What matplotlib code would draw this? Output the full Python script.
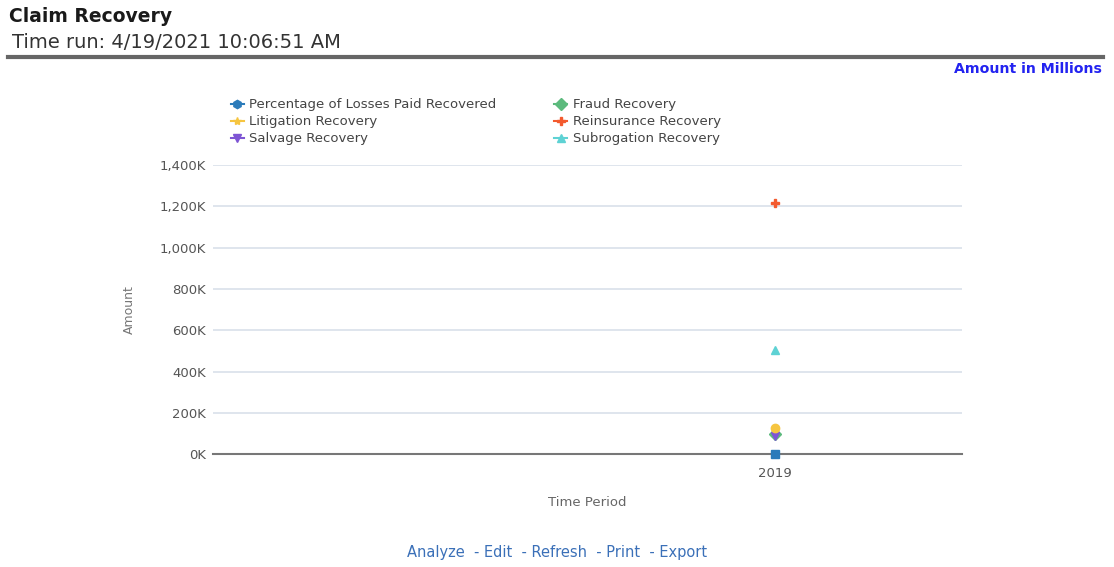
import matplotlib.pyplot as plt
from matplotlib.lines import Line2D
import matplotlib.ticker as mticker

# data (amounts, thousands)
periods = ["2019"]
series = ["Percentage of Losses Paid Recovered", "Fraud Recovery",
          "Litigation Recovery", "Reinsurance Recovery",
          "Salvage Recovery", "Subrogation Recovery"]
values = [0, 100, 126, 1215, 87, 504]
colors = ["#2b7bba", "#5cba7d", "#f6c540", "#f35a2e", "#7e55d4", "#5ed2d4"]
plot_markers = ["s", "D", "o", "P", "v", "^"]
legend_markers = ["h", "D", "*", "P", "v", "^"]

plt.rcParams["font.family"] = "DejaVu Sans"

fig = plt.figure(figsize=(11.14, 5.67), dpi=100)
fig.patch.set_facecolor("white")

# header
fig.text(0.008, 0.971, "Claim Recovery", fontsize=13.5, fontweight="bold",
         color="#1a1a1a", va="center")
fig.text(0.011, 0.925, "Time run: 4/19/2021 10:06:51 AM", fontsize=14,
         color="#333333", va="center")
fig.add_artist(Line2D([0.007, 0.99], [0.899, 0.899], color="#666666", lw=3))
fig.text(0.989, 0.878, "Amount in Millions", fontsize=10.2, fontweight="bold",
         color="#2323f0", ha="right", va="center")

ax = fig.add_axes([0.191, 0.199, 0.673, 0.510])
x = list(range(len(periods)))
order = [0, 1, 4, 2, 3, 5]
for i in order:
    ax.plot(x, [values[i]], linestyle="none", marker=plot_markers[i],
            color=colors[i], markersize=6, zorder=3, clip_on=False)

ax.set_xlim(-1.5, 0.5)
ax.set_ylim(0, 1400)
ax.set_xticks(x)
ax.set_xticklabels(periods)
ax.set_yticks(range(0, 1401, 200))
ax.yaxis.set_major_formatter(mticker.FuncFormatter(lambda v, p: f"{int(v):,}K"))
ax.grid(axis="y", color="#d9e0ea", lw=1.2)
ax.set_axisbelow(True)
for s in ["top", "right", "left"]:
    ax.spines[s].set_visible(False)
ax.spines["bottom"].set_color("#777777")
ax.spines["bottom"].set_linewidth(1.5)
ax.tick_params(axis="y", length=0, pad=5, labelsize=9.5, labelcolor="#555555")
ax.tick_params(axis="x", length=0, pad=9, labelsize=9.5, labelcolor="#555555")
ax.set_ylabel("Amount", fontsize=9, color="#777777", labelpad=17)
ax.set_xlabel("Time Period", fontsize=9.5, color="#666666", labelpad=12)

handles = [Line2D([0], [0], color=c, marker=m, markersize=6, lw=1.5)
           for c, m in zip(colors, legend_markers)]
leg_order = [0, 2, 4, 1, 3, 5]
fig.legend([handles[i] for i in leg_order], [series[i] for i in leg_order],
           ncol=2, loc="upper left", bbox_to_anchor=(0.201, 0.838),
           frameon=False, handlelength=1.0, handletextpad=0.4,
           labelspacing=0.3, columnspacing=4.4, borderpad=0,
           fontsize=9.5, labelcolor="#444444")

# footer links
fig.text(0.5, 0.026, "Analyze  - Edit  - Refresh  - Print  - Export", fontsize=10.5,
         color="#3b70b8", ha="center", va="center")

fig.savefig("out.png", dpi=100, facecolor="white")
